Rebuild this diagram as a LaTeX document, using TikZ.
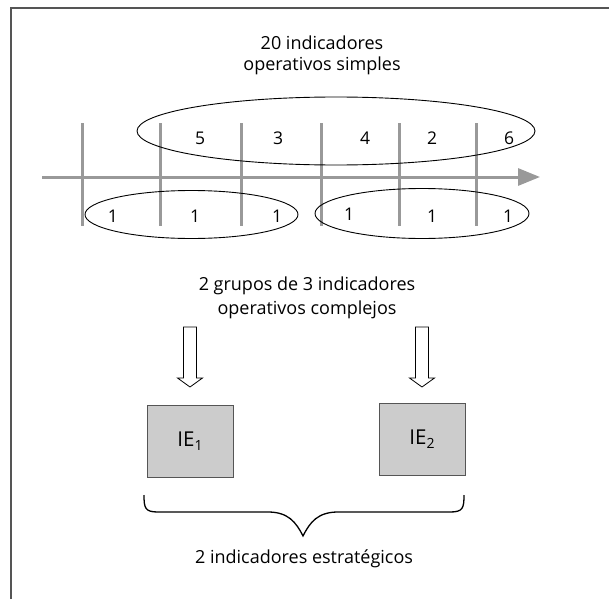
\documentclass[tikz,border=0pt]{standalone}
\usepackage{fontspec}
\setmainfont{Open Sans}
\usetikzlibrary{arrows.meta,shapes.geometric}
\definecolor{axisgray}{HTML}{999999}
\definecolor{framegray}{HTML}{555555}
\definecolor{boxfill}{HTML}{CCCCCC}
\newcommand{\iesub}[1]{\raisebox{-4pt}{\fontsize{14}{16}\selectfont #1}}
\begin{document}
\begin{tikzpicture}[x=1pt,y=-1pt,
  axisline/.style={draw=axisgray,line width=3pt},
  oval/.style={draw=black,line width=0.9pt,ellipse,inner sep=0pt},
  num/.style={font=\fontsize{17.5}{20}\selectfont,inner sep=0pt,anchor=base},
  lbl/.style={font=\fontsize{18}{21}\selectfont,align=center,inner sep=0pt},
  iebox/.style={draw=framegray,line width=1pt,fill=boxfill,minimum width=86pt,minimum height=72pt,inner sep=0pt,font=\fontsize{20.5}{22}\selectfont},
  hollow/.style={draw=black,line width=0.8pt,fill=white}]
\useasboundingbox (0,0) rectangle (609,599);
% frame
\draw[draw=framegray,line width=2pt] (10.5,599) -- (10.5,8) -- (609,8);
% title
\node[lbl] (title) at (322,55) {20 indicadores\\operativos simples};
% axis
\coordinate (axstart) at (42,177);
\coordinate (axend) at (540,177);
\draw[axisline,-{Triangle[length=22pt,width=17pt]}] (axstart) -- (axend);
% ticks
\foreach \i/\x in {1/82,2/160,3/241.5,4/321,5/399,6/476.5}{
  \coordinate (t\i top) at (\x,123);
  \coordinate (t\i bot) at (\x,226);
  \draw[axisline] (t\i top) -- (t\i bot);
}
% top ellipse and numbers
\node[oval,minimum width=398pt,minimum height=68pt] (topoval) at (336,131) {};
\node[num] (n5) at (200,144) {5};
\node[num] (n3) at (278,144) {3};
\node[num] (n4) at (365,144) {4};
\node[num] (n2) at (432,144) {2};
\node[num] (n6) at (509,144) {6};
% bottom ellipses and ones
\node[oval,minimum width=213pt,minimum height=48pt] (leftoval) at (191.5,214.5) {};
\node[oval,minimum width=214pt,minimum height=50pt] (rightoval) at (422,213.5) {};
\node[num] (a1) at (113,222) {1};
\node[num] (a2) at (195,222) {1};
\node[num] (a3) at (277,222) {1};
\node[num] (b1) at (349,220) {1};
\node[num] (b2) at (432,222) {1};
\node[num] (b3) at (508,222) {1};
% middle label
\node[lbl,font=\fontsize{18}{24}\selectfont] (mid) at (307,298) {2 grupos de 3 indicadores\\operativos complejos};
% boxes
\node[iebox] (ie1) at (190,441) {IE\iesub{1}};
\node[iebox] (ie2) at (422,439) {IE\iesub{2}};
% hollow arrows
\coordinate (h1) at (190,327);
\coordinate (h2) at (422,327);
\foreach \h in {h1,h2}{
  \draw[hollow] (\h) ++(-6.5,0) -- ++(13,0) -- ++(0,51) -- ++(6,0) -- ++(-12.5,9) -- ++(-12.5,-9) -- ++(6,0) -- cycle;
}
% brace
\coordinate (bl) at (144,495);
\coordinate (br) at (464,495);
\coordinate (btip) at (303,536);
\draw[line width=1.3pt] (bl) .. controls (144,508) and (145,512) .. (158,512)
  -- (268,512) .. controls (288,512) and (296,522) .. (btip)
  .. controls (310,522) and (318,512) .. (338,512)
  -- (450,512) .. controls (463,512) and (464,508) .. (br);
\node[lbl,anchor=base] (strat) at (304,563) {2 indicadores estratégicos};
\end{tikzpicture}
\end{document}
